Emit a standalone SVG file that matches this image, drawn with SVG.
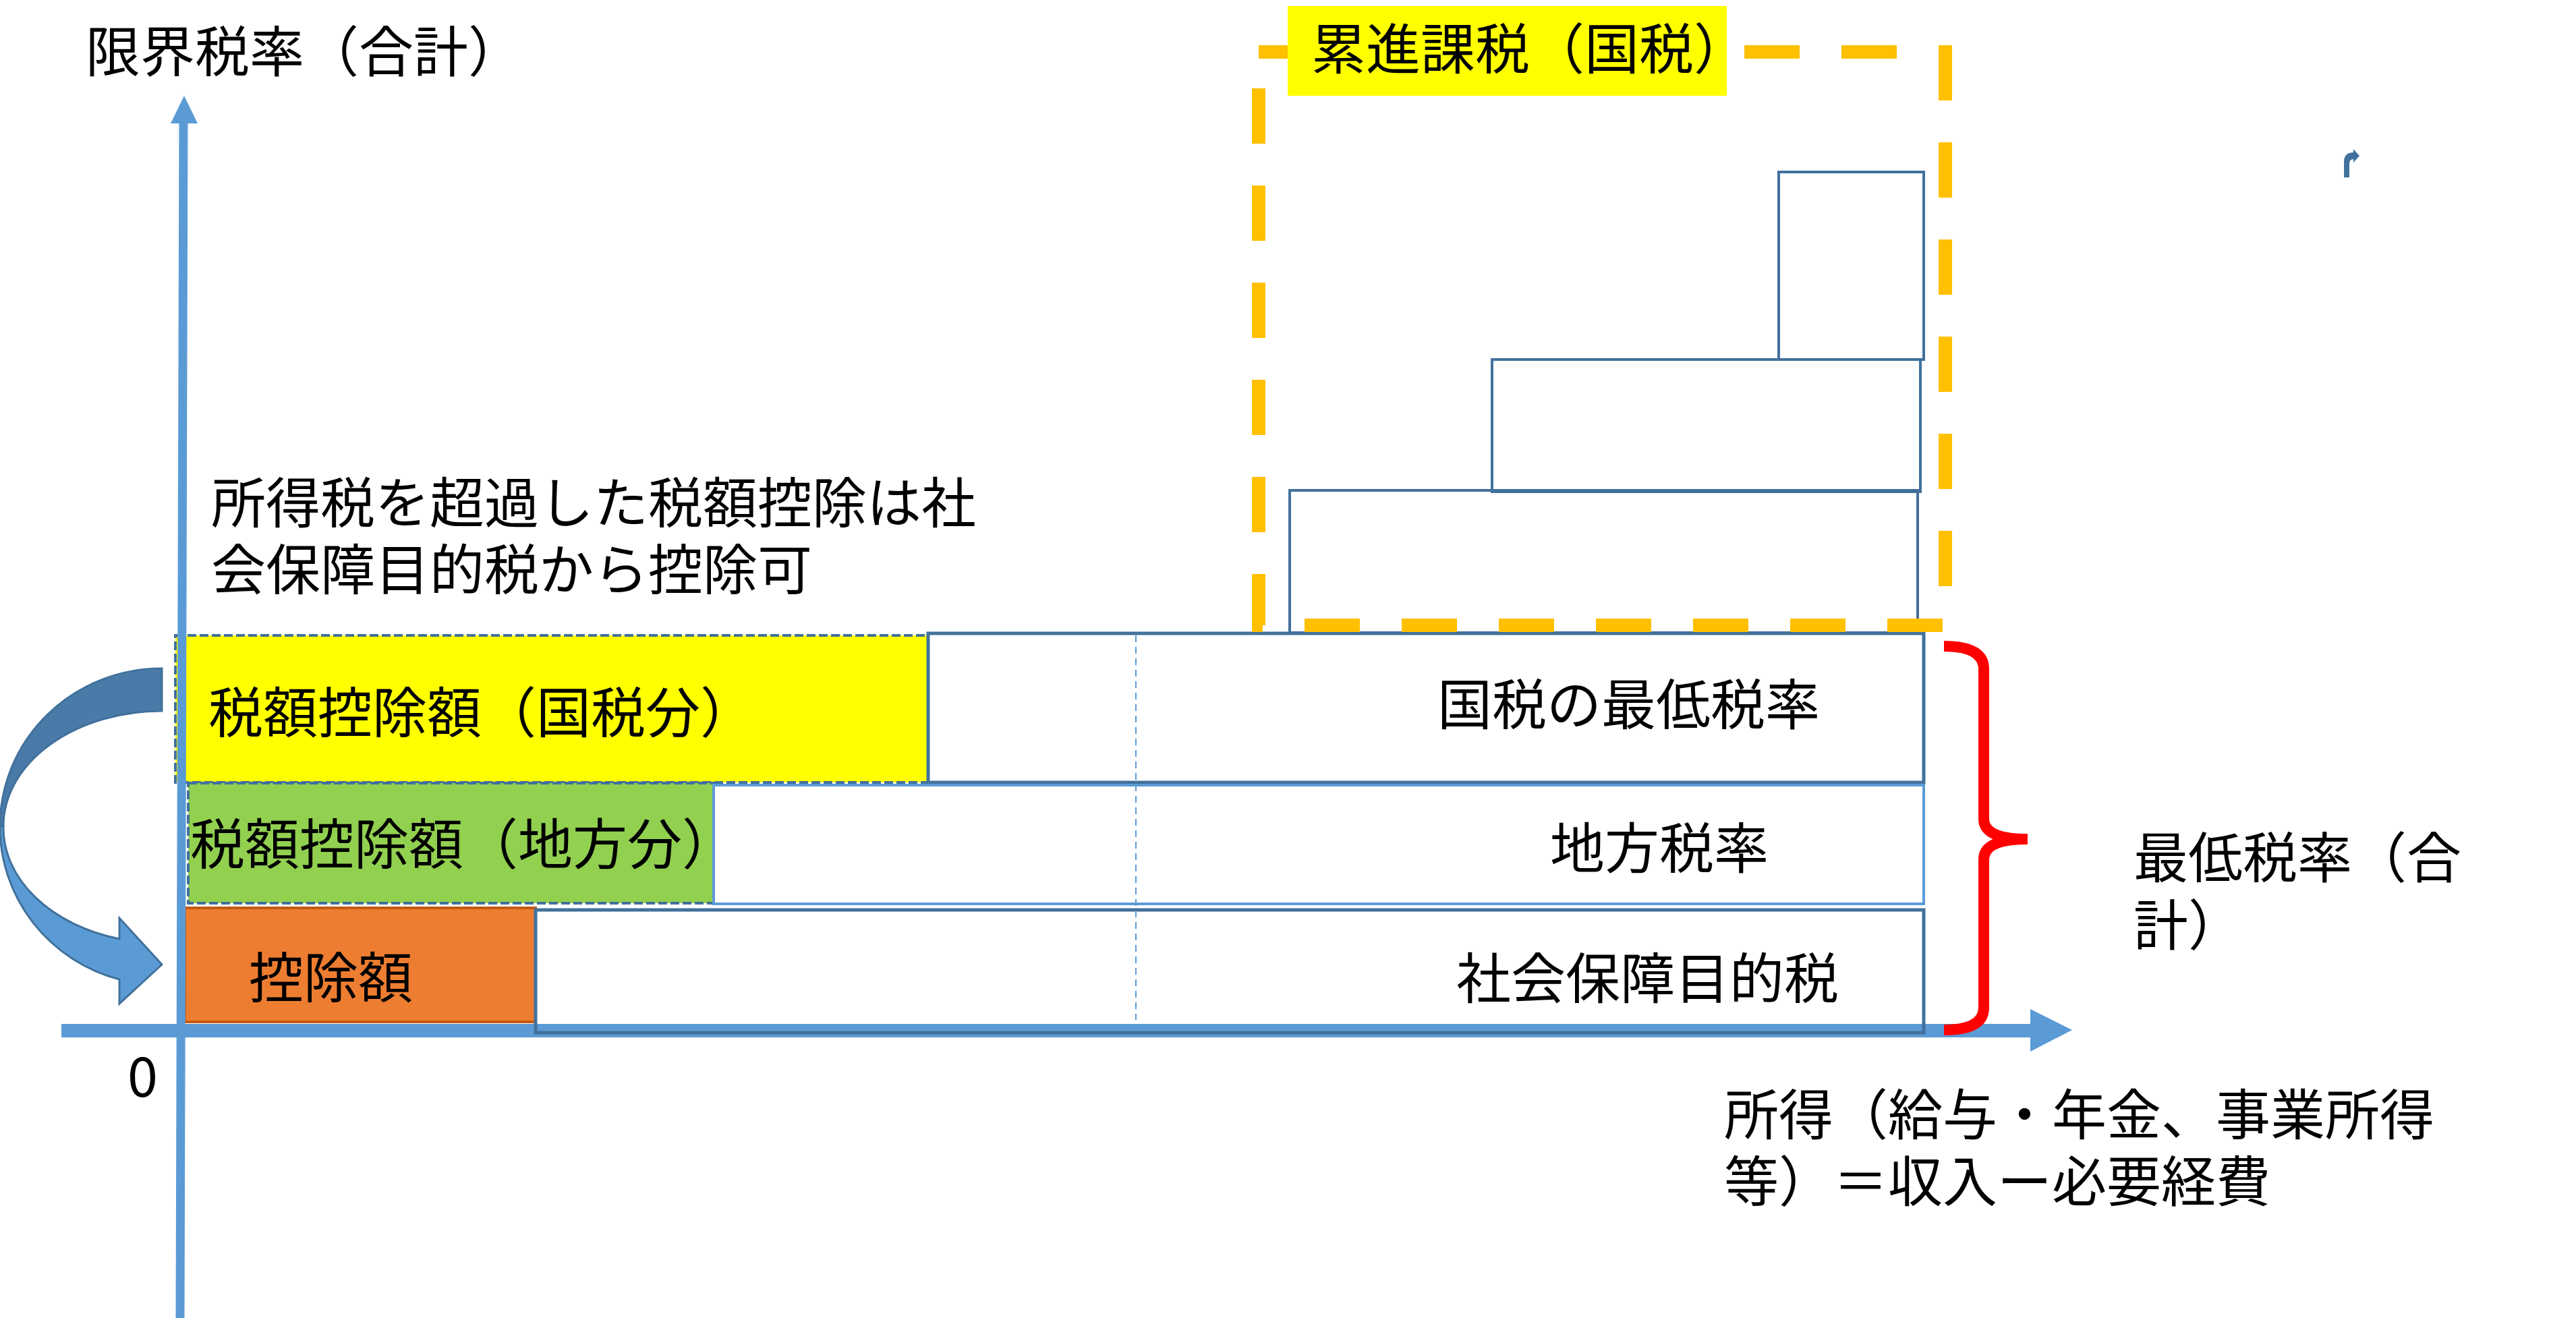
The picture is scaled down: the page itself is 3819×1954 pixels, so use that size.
<svg xmlns="http://www.w3.org/2000/svg" width="3819" height="1954" viewBox="0 0 3819 1954">
<style>
.t{font-family:"Noto Sans CJK JP","Noto Sans",sans-serif;font-size:81px;fill:#000}
.step{fill:none;stroke:#41719C;stroke-width:4}
.dk{stroke:#41719C;stroke-width:4;stroke-dasharray:13 5}
.ax{stroke:#5B9BD5;fill:none}
</style>
<rect x="0" y="0" width="3819" height="1954" fill="#fff"/>

<g id="credit-national">
<rect x="260" y="942" width="1116" height="218" fill="#FFFF00" class="dk"/>
<text class="t" x="309" y="1086">税額控除額（国税分）</text>
</g>
<g id="credit-local">
<rect x="279" y="1161" width="779" height="178" fill="#92D050" class="dk"/>
<text class="t" x="282" y="1281">税額控除額（地方分）</text>
</g>
<g id="deduction">
<rect x="274" y="1346" width="520" height="169" fill="#ED7D31" stroke="#C55A11" stroke-width="4"/>
<text class="t" x="369" y="1479">控除額</text>
</g>

<g id="connectors">
<line class="ax" x1="272" y1="180" x2="267" y2="1954" stroke-width="13"/>
<polygon points="273,142 293,183 253,183" fill="#5B9BD5"/>
<line class="ax" x1="91" y1="1528" x2="3012" y2="1528" stroke-width="20"/>
<polygon points="3010,1496 3072,1527 3010,1559" fill="#5B9BD5"/>
<path d="M240,991 A240,234 0 0 0 0,1225 L5,1225 A235,171 0 0 1 240,1054 Z" fill="#4A7BA8" stroke="#41719C" stroke-width="3"/>
<path d="M0,1225 A240,234 0 0 0 177,1452 L177,1488 L240,1430 L177,1361 L177,1392 A235,171 0 0 1 5,1225 Z" fill="#5B9BD5" stroke="#41719C" stroke-width="3"/>
<path d="M2882,958 Q2941,958 2941,992 L2941,1214 Q2941,1244 3006,1244 Q2941,1244 2941,1274 L2941,1494 Q2941,1527 2882,1527" fill="none" stroke="#FF0000" stroke-width="16"/>
<path d="M3475,263 L3475,240 Q3475,226 3489,226 L3489,221 L3498,231 L3489,241 L3489,236 Q3483,236 3483,243 L3483,263 Z" fill="#41719C"/>
</g>

<g id="row-national">
<rect x="1376" y="939" width="1476" height="221" fill="none" stroke="#41719C" stroke-width="5"/>
<text class="t" x="2131" y="1074">国税の最低税率</text>
</g>
<g id="row-local">
<rect x="1058" y="1164" width="1794" height="176" fill="none" stroke="#5B9BD5" stroke-width="4"/>
<text class="t" x="2298" y="1287">地方税率</text>
</g>
<g id="row-social">
<rect x="794" y="1349" width="2058" height="182" fill="none" stroke="#41719C" stroke-width="5"/>
<text class="t" x="2159" y="1480">社会保障目的税</text>
</g>
<line x1="1684" y1="942" x2="1684" y2="1512" stroke="#5B9BD5" stroke-width="2" stroke-dasharray="10 7"/>

<g id="progressive-steps">
<rect class="step" x="1912" y="727" width="931" height="211"/>
<rect class="step" x="2212" y="533" width="635" height="196"/>
<rect class="step" x="2637" y="255" width="215" height="278"/>
</g>

<g id="progressive-frame">
<rect x="1866" y="77" width="1018" height="850" fill="none" stroke="#FFC000" stroke-width="20" stroke-dasharray="82 62"/>
<rect x="1909" y="9" width="651" height="133" fill="#FFFF00"/>
<text class="t" x="1944" y="102">累進課税（国税）</text>
</g>

<g id="labels">
<text class="t" x="127" y="106">限界税率（合計）</text>
<text class="t" x="313" y="775">所得税を超過した税額控除は社<tspan x="313" dy="99">会保障目的税から控除可</tspan></text>
<text class="t" x="189" y="1626">0</text>
<text class="t" x="3163" y="1301">最低税率（合<tspan x="3163" dy="100">計）</tspan></text>
<text class="t" x="2556" y="1682">所得（給与・年金、事業所得<tspan x="2556" dy="99">等）＝収入ー必要経費</tspan></text>
</g>
</svg>
